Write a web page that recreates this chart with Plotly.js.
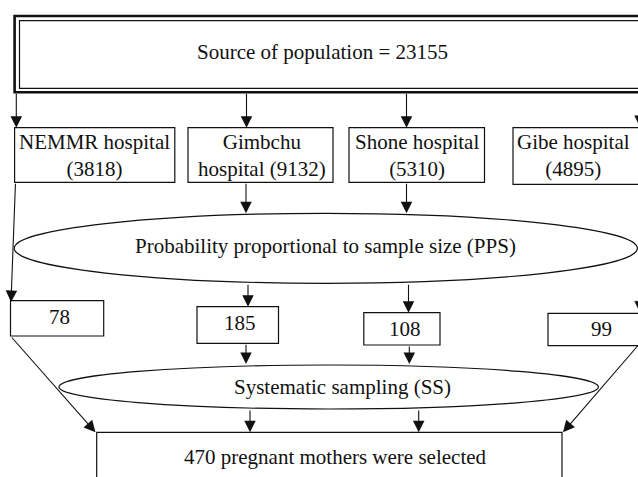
<!DOCTYPE html>
<html><head><meta charset="utf-8">
<script src="https://cdn.plot.ly/plotly-3.0.1.min.js"></script>
<style>html,body{margin:0;padding:0;background:#fff}#c{width:638px;height:477px}</style>
</head><body><div id="c"></div>
<script>
// ---- data ----
var totalPopulation = 23155;
var hospitals = ['NEMMR hospital', 'Gimbchu<br>hospital', 'Shone hospital', 'Gibe hospital'];
var populations = [3818, 9132, 5310, 4895];
var samples = [78, 185, 108, 99];
var totalSelected = 470;
var stepPPS = 'Probability proportional to sample size (PPS)';
var stepSS = 'Systematic sampling (SS)';

// ---- layout geometry (pixel space) ----
var hospBoxes = [[14.6,127.7,174.8,182.3],[188,127.7,333,182.3],[349,127.7,484.5,182.3],[513,127.7,660,184.3]];
var hospText = [[94,155.5],[262,155.5],[417,155.5],[573,155.5]];
var sampBoxes = [[10.5,300.7,103.7,336],[197,306.7,278.5,343.3],[363.8,312.7,440,345],[548,313.3,660,345.7]];
var sampText = [[59,317],[240,323],[405,329],[601,329]];
var arrows = [
  [16.3,92.3,16.3,127.7],[246.5,92.3,246.5,127.7],[406.5,92.3,406.5,127.7],
  [246,182.3,246,213.3],[406.5,182.3,406.5,213.3],
  [15.5,182.3,11,302],
  [248,283.3,248,306.7],[408.5,283.3,408.5,312.7],
  [246,343.3,246,364],[409.3,345,409.3,364],
  [250,409,250,432.3],[418.7,409,418.7,432.3],
  [10.5,336,95.5,432.3],[641,342,563,432.3]
];
// arrows whose heads sit on the right edge (partly outside the picture)
var edgeArrows = [[640.5,92.3,640.5,127.7],[640.5,184.3,640.5,313.3]];

var FONT = {family: 'Liberation Serif, Times New Roman, serif', size: 21, color: '#111'};
var LINE = {color: '#111', width: 1.2};

var shapes = [];
function rect(b, w){ shapes.push({type:'rect', xref:'x', yref:'y', x0:b[0], y0:b[1], x1:b[2], y1:b[3], line:{color:'#111', width:w||1.2}, fillcolor:'rgba(0,0,0,0)'}); }
rect([14.6,16,660,92.3], 2.6);
rect([19.5,20.7,660,88.3], 1.2);
hospBoxes.forEach(function(b){ rect(b); });
sampBoxes.forEach(function(b){ rect(b); });
rect([96.7,432.3,562,495]);
shapes.push({type:'circle', xref:'x', yref:'y', x0:14.2, y0:213.3, x1:637.4, y1:283.3, line:LINE});
shapes.push({type:'circle', xref:'x', yref:'y', x0:59, y0:365, x1:598.4, y1:409, line:LINE});
edgeArrows.forEach(function(a){
  shapes.push({type:'line', xref:'x', yref:'y', x0:a[0], y0:a[1], x1:a[2], y1:a[3]-10, line:{color:'#111', width:1.1}});
  shapes.push({type:'path', xref:'x', yref:'y', path:'M'+(a[2]-5.8)+','+(a[3]-12)+' L'+(a[2]+5.8)+','+(a[3]-12)+' L'+a[2]+','+a[3]+' Z',
    fillcolor:'#111', line:{color:'#111', width:0.5}});
});

var ann = [];
function txt(x, y, t){ ann.push({x:x, y:y, xref:'x', yref:'y', text:t, showarrow:false, font:FONT, xanchor:'center', yanchor:'middle'}); }
txt(322, 52, 'Source of population = ' + totalPopulation);
hospitals.forEach(function(h, i){
  var sep = h.indexOf('<br>') >= 0 ? ' ' : '<br>';
  txt(hospText[i][0], hospText[i][1], h + sep + '(' + populations[i] + ')');
});
txt(325, 246, stepPPS);
samples.forEach(function(s, i){ txt(sampText[i][0], sampText[i][1], String(s)); });
txt(342, 387, stepSS);
txt(335, 457, totalSelected + ' pregnant mothers were selected');

arrows.forEach(function(a){
  ann.push({x:a[2], y:a[3], ax:a[0], ay:a[1], xref:'x', yref:'y', axref:'x', ayref:'y', text:'', showarrow:true,
    arrowhead:2, arrowsize:2.1, arrowwidth:1.1, arrowcolor:'#111', standoff:0});
});

Plotly.newPlot('c', [], {
  width:638, height:477, margin:{l:0,r:0,t:0,b:0},
  paper_bgcolor:'#fff', plot_bgcolor:'#fff',
  xaxis:{range:[0,638], visible:false, fixedrange:true},
  yaxis:{range:[477,0], visible:false, fixedrange:true},
  shapes:shapes, annotations:ann, showlegend:false
}, {staticPlot:true});
</script></body></html>
